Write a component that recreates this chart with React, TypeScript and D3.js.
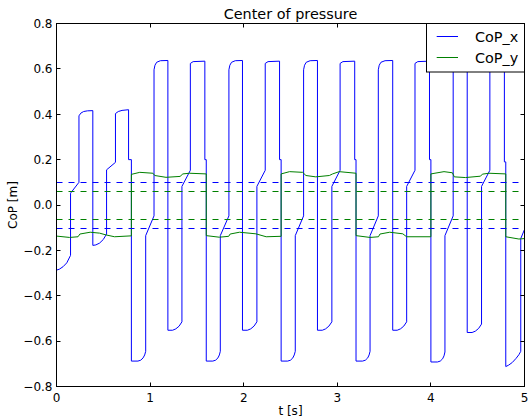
import React, { useEffect, useRef } from "react";
import * as d3 from "d3";

// CoP_x, one array per half gait cycle (t [s], CoP [m])
const copX0 = [
  [0, -0.287], [0.03, -0.283], [0.07, -0.272], [0.11, -0.255], [0.15, -0.222],
  [0.15, 0.052], [0.24, 0.1],
  [0.24, 0.393], [0.26, 0.405], [0.29, 0.412], [0.33, 0.415], [0.388, 0.416],
  [0.388, -0.178], [0.42, -0.176], [0.46, -0.168], [0.5, -0.152], [0.535, -0.128],
  [0.535, 0.155], [0.63, 0.188],
  [0.63, 0.403], [0.66, 0.412], [0.7, 0.417], [0.77, 0.42],
  [0.77, 0.2], [0.8, 0.2],
];
const copX1 = [
  [0.8, -0.688], [0.87, -0.688], [0.9, -0.684], [0.925, -0.674], [0.942, -0.661], [0.953, -0.645],
  [0.953, -0.135], [1.042, -0.048],
  [1.042, 0.596], [1.052, 0.616], [1.07, 0.629], [1.11, 0.636], [1.19, 0.637],
  [1.19, -0.552], [1.24, -0.552], [1.275, -0.546], [1.31, -0.534], [1.34, -0.515],
  [1.34, 0.082], [1.43, 0.153],
  [1.43, 0.624], [1.46, 0.632], [1.585, 0.634],
  [1.585, 0.2], [1.6, 0.2],
];
const copX2 = [
  [1.6, -0.688], [1.67, -0.688], [1.7, -0.684], [1.725, -0.674], [1.74, -0.661], [1.75, -0.645],
  [1.75, -0.135], [1.842, -0.048],
  [1.842, 0.596], [1.852, 0.616], [1.87, 0.629], [1.91, 0.636], [1.987, 0.637],
  [1.987, -0.552], [2.04, -0.552], [2.075, -0.546], [2.11, -0.534], [2.141, -0.515],
  [2.141, 0.082], [2.23, 0.153],
  [2.23, 0.624], [2.26, 0.632], [2.383, 0.634],
  [2.383, 0.2], [2.4, 0.2],
];
const copX3 = [
  [2.4, -0.688], [2.47, -0.688], [2.5, -0.684], [2.525, -0.674], [2.54, -0.661], [2.551, -0.645],
  [2.551, -0.135], [2.64, -0.048],
  [2.64, 0.596], [2.65, 0.616], [2.668, 0.629], [2.71, 0.636], [2.788, 0.637],
  [2.788, -0.552], [2.84, -0.552], [2.875, -0.546], [2.91, -0.534], [2.942, -0.515],
  [2.942, 0.082], [3.03, 0.153],
  [3.03, 0.624], [3.06, 0.632], [3.186, 0.634],
  [3.186, 0.2], [3.2, 0.2],
];
const copX4 = [
  [3.2, -0.688], [3.27, -0.688], [3.3, -0.684], [3.325, -0.674], [3.34, -0.661], [3.35, -0.645],
  [3.35, -0.135], [3.438, -0.048],
  [3.438, 0.596], [3.448, 0.616], [3.466, 0.629], [3.51, 0.636], [3.592, 0.637],
  [3.592, -0.552], [3.64, -0.552], [3.675, -0.546], [3.71, -0.534], [3.741, -0.515],
  [3.741, 0.082], [3.83, 0.153],
  [3.83, 0.624], [3.86, 0.632], [3.985, 0.634],
  [3.985, 0.2], [4.0, 0.2],
];
const copX5 = [
  [4.0, -0.692], [4.07, -0.692], [4.1, -0.688], [4.125, -0.678], [4.14, -0.665], [4.15, -0.648],
  [4.15, -0.135], [4.238, -0.048],
  [4.238, 0.596], [4.248, 0.616], [4.266, 0.629], [4.31, 0.636], [4.388, 0.637],
  [4.388, -0.562], [4.44, -0.562], [4.475, -0.556], [4.51, -0.544], [4.541, -0.525],
  [4.541, 0.082], [4.63, 0.153],
  [4.63, 0.624], [4.66, 0.632], [4.785, 0.634],
  [4.785, 0.19], [4.8, 0.19],
];
const copX6 = [
  [4.8, -0.712], [4.83, -0.706], [4.87, -0.694], [4.91, -0.676], [4.94, -0.66], [4.96, -0.645],
  [4.96, -0.148], [5.0, -0.108],
];

// CoP_y, same split
const copY0 = [
  [0, -0.137], [0.14, -0.143], [0.23, -0.14], [0.25, -0.128], [0.36, -0.12],
  [0.46, -0.124], [0.53, -0.132], [0.62, -0.14], [0.8, -0.136],
];
const copY1 = [
  [0.8, 0.135], [0.89, 0.144], [1.03, 0.14], [1.05, 0.13], [1.17, 0.122],
  [1.32, 0.126], [1.35, 0.137], [1.42, 0.14], [1.6, 0.137],
];
const copY2 = [
  [1.6, -0.135], [1.74, -0.142], [1.84, -0.138], [1.855, -0.128], [1.955, -0.12],
  [2.13, -0.127], [2.24, -0.14], [2.4, -0.138],
];
const copY3 = [
  [2.4, 0.137], [2.49, 0.147], [2.63, 0.144], [2.665, 0.13], [2.77, 0.124],
  [2.915, 0.13], [2.95, 0.137], [3.02, 0.147], [3.2, 0.14],
];
const copY4 = [
  [3.2, -0.135], [3.35, -0.143], [3.44, -0.14], [3.456, -0.128], [3.56, -0.12],
  [3.7, -0.127], [3.74, -0.14], [4.0, -0.14],
];
const copY5 = [
  [4.0, 0.137], [4.14, 0.147], [4.23, 0.142], [4.25, 0.124], [4.37, 0.121],
  [4.53, 0.127], [4.55, 0.136], [4.62, 0.14], [4.8, 0.137],
];
const copY6 = [[4.8, -0.14], [4.94, -0.15], [5.0, -0.148]];

const copX = [copX0, copX1, copX2, copX3, copX4, copX5, copX6].flat();
const copY = [copY0, copY1, copY2, copY3, copY4, copY5, copY6].flat();

const xLimits = [0, 5];
const yLimits = [-0.8, 0.8];
const xTicks = [0, 1, 2, 3, 4, 5];
const yTicks = [-0.8, -0.6, -0.4, -0.2, 0, 0.2, 0.4, 0.6, 0.8];
const limitsX = [0.1, -0.1];
const limitsY = [0.06, -0.06];
const seriesNames = ["CoP_x", "CoP_y"];

const BLUE = "#0000ff";
const GREEN = "#008000";
const FONT = "DejaVu Sans, sans-serif";

const W = 529;
const H = 417;
// half-pixel edges keep the 1px frame crisp
const box = { left: 56.5, right: 524.5, top: 23.5, bottom: 386.5 };

export default function App() {
  const svgRef = useRef(null);

  useEffect(() => {
    const svg = d3.select(svgRef.current);
    svg.selectAll("*").remove();

    const x = d3.scaleLinear().domain(xLimits).range([box.left, box.right]);
    const y = d3.scaleLinear().domain(yLimits).range([box.bottom, box.top]);
    const line = d3.line().x((d) => x(d[0])).y((d) => y(d[1]));

    const plot = svg.append("g");

    plot.append("path").attr("d", line(copX)).attr("fill", "none").attr("stroke", BLUE).attr("stroke-width", 1);
    plot.append("path").attr("d", line(copY)).attr("fill", "none").attr("stroke", GREEN).attr("stroke-width", 1);

    const dashed = (vals, color) =>
      plot
        .selectAll(null)
        .data(vals)
        .join("line")
        .attr("x1", x(xLimits[0]))
        .attr("x2", x(xLimits[1]))
        .attr("y1", (d) => Math.round(y(d)) + 0.5)
        .attr("y2", (d) => Math.round(y(d)) + 0.5)
        .attr("stroke", color)
        .attr("stroke-width", 1)
        .attr("stroke-dasharray", "6,6");
    dashed(limitsX, BLUE);
    dashed(limitsY, GREEN);

    // frame
    svg
      .append("rect")
      .attr("x", box.left)
      .attr("y", box.top)
      .attr("width", box.right - box.left)
      .attr("height", box.bottom - box.top)
      .attr("fill", "none")
      .attr("stroke", "#000")
      .attr("stroke-width", 1);

    // inward ticks on all sides
    const tickLen = 4;
    const snap = (v) => Math.round(v - 0.5) + 0.5;
    const ticks = svg.append("g").attr("stroke", "#000").attr("stroke-width", 1);
    xTicks.forEach((t) => {
      const px = snap(x(t));
      ticks.append("line").attr("x1", px).attr("x2", px).attr("y1", box.bottom).attr("y2", box.bottom - tickLen);
      ticks.append("line").attr("x1", px).attr("x2", px).attr("y1", box.top).attr("y2", box.top + tickLen);
    });
    yTicks.forEach((t) => {
      const py = snap(y(t));
      ticks.append("line").attr("x1", box.left).attr("x2", box.left + tickLen).attr("y1", py).attr("y2", py);
      ticks.append("line").attr("x1", box.right).attr("x2", box.right - tickLen).attr("y1", py).attr("y2", py);
    });

    const fmtY = d3.format(".1f");
    svg
      .append("g")
      .selectAll("text")
      .data(xTicks)
      .join("text")
      .attr("x", (d) => x(d))
      .attr("y", 401.5)
      .attr("text-anchor", "middle")
      .attr("font-family", FONT)
      .attr("font-size", 12)
      .text((d) => String(d));
    svg
      .append("g")
      .selectAll("text")
      .data(yTicks)
      .join("text")
      .attr("x", box.left - 4)
      .attr("y", (d) => y(d))
      .attr("dy", "0.36em")
      .attr("text-anchor", "end")
      .attr("font-family", FONT)
      .attr("font-size", 12)
      .text((d) => fmtY(d));

    svg
      .append("text")
      .attr("x", (box.left + box.right) / 2)
      .attr("y", 18.5)
      .attr("text-anchor", "middle")
      .attr("font-family", FONT)
      .attr("font-size", 14.4)
      .text("Center of pressure");
    svg
      .append("text")
      .attr("x", (box.left + box.right) / 2)
      .attr("y", 414.5)
      .attr("text-anchor", "middle")
      .attr("font-family", FONT)
      .attr("font-size", 12)
      .text("t [s]");
    svg
      .append("text")
      .attr("transform", `translate(17,${(box.top + box.bottom) / 2}) rotate(-90)`)
      .attr("text-anchor", "middle")
      .attr("font-family", FONT)
      .attr("font-size", 12)
      .text("CoP [m]");

    // legend
    const lg = svg.append("g");
    lg.append("rect")
      .attr("x", 426.5)
      .attr("y", box.top)
      .attr("width", box.right - 426.5)
      .attr("height", 72 - box.top)
      .attr("fill", "#fff")
      .attr("stroke", "#000")
      .attr("stroke-width", 1);
    [BLUE, GREEN].forEach((c, i) => {
      const ly = 36.5 + i * 21;
      lg.append("line").attr("x1", 436.7).attr("x2", 458).attr("y1", ly).attr("y2", ly).attr("stroke", c).attr("stroke-width", 1);
      lg.append("text")
        .attr("x", 475)
        .attr("y", ly + 5.3)
        .attr("font-family", FONT)
        .attr("font-size", 14.4)
        .text(seriesNames[i]);
    });
  }, []);

  return (
    <div style={{ position: "absolute", left: 0, top: 0 }}>
      <svg ref={svgRef} width={W} height={H} style={{ display: "block", background: "#fff" }} />
    </div>
  );
}
